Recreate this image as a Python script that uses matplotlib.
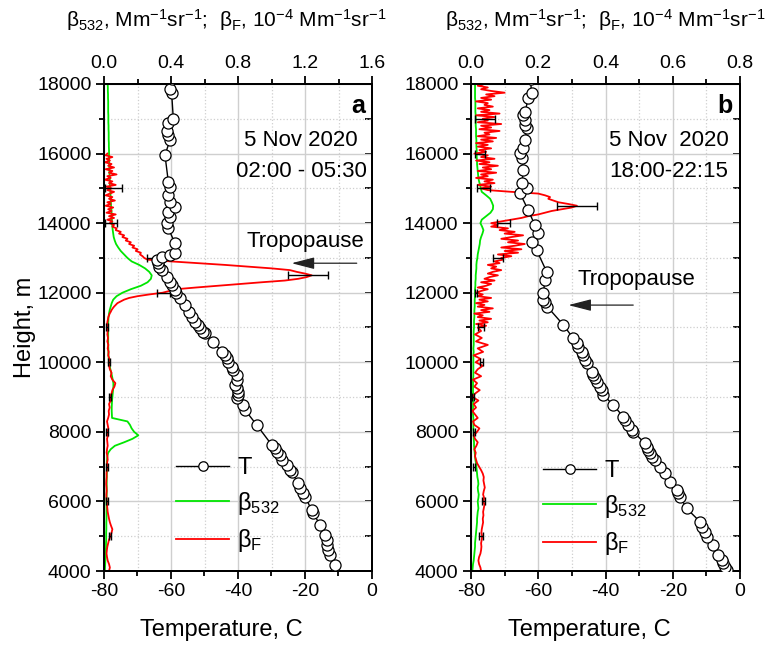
import numpy as np
import matplotlib
matplotlib.use('Agg')
import matplotlib.pyplot as plt
from matplotlib.ticker import MultipleLocator, FormatStrFormatter

plt.rcParams['font.family'] = ['Liberation Sans', 'DejaVu Sans']
plt.rcParams['mathtext.fontset'] = 'custom'
plt.rcParams['mathtext.rm'] = 'Liberation Sans'
plt.rcParams['mathtext.default'] = 'regular'
plt.rcParams['axes.unicode_minus'] = False

# ---------------- Panel a: temperature profile ----------------
Ta_h = [4172, 4460, 4604, 4747, 4891, 5035, 5322, 5658, 5753, 6136, 6233, 6377, 6521,
        6855, 6903, 7047, 7191, 7334, 7430, 7527, 7622, 8197, 8628, 8771, 8963, 9059,
        9154, 9251, 9346, 9490, 9634, 9778, 9873, 10017, 10114, 10209, 10304, 10592,
        10832, 10880, 10976, 11071, 11166, 11310, 11453, 11646, 11838, 11982, 12077,
        12221, 12317, 12460, 12652, 12748, 12844, 12940, 13036, 13084, 13150, 13420,
        13850, 13994, 14186, 14330, 14473, 14617, 14808, 15047, 15191, 15957, 16388,
        16532, 16656, 16868, 16983, 17731, 17846, 18150]
Ta_t = [-11.0, -12.5, -13.0, -13.5, -13.5, -14.0, -15.5, -17.5, -18.0, -20.0, -20.5, -21.5, -22.0,
        -24.0, -24.5, -25.5, -27.0, -27.5, -28.4, -29.0, -29.9, -34.4, -37.9, -38.4, -40.4, -39.9,
        -39.9, -40.4, -40.9, -40.4, -40.4, -41.4, -41.9, -42.9, -43.4, -43.9, -44.9, -47.4,
        -49.9, -50.4, -51.3, -51.8, -52.8, -53.8, -54.6, -55.8, -57.3, -58.5, -58.8,
        -59.8, -60.3, -61.3, -62.8, -63.5, -63.8, -64.3, -62.8, -60.3, -58.8, -58.8,
        -60.8, -61.3, -60.3, -60.8, -58.8, -60.3, -60.8, -60.3, -60.8, -61.8, -60.3,
        -60.8, -61.1, -60.8, -59.3, -59.8, -60.2, -59.8]

# beta_532 (Mm-1 sr-1), panel a, every 100 m from 4000 m
Ga = [0.005, 0.006, 0.007, 0.008, 0.009, 0.010, 0.011, 0.012, 0.012, 0.013,
      0.013, 0.013, 0.014, 0.014, 0.014, 0.015, 0.015, 0.015, 0.015, 0.015,
      0.015, 0.015, 0.016, 0.016, 0.016, 0.016, 0.016, 0.016, 0.017, 0.017,
      0.017, 0.017, 0.018, 0.020, 0.025, 0.040, 0.065, 0.120, 0.170, 0.205,
      0.180, 0.165, 0.155, 0.140, 0.048, 0.047, 0.046, 0.046, 0.047, 0.048,
      0.050, 0.052, 0.054, 0.056, 0.056, 0.052, 0.048, 0.043, 0.038, 0.034,
      0.030, 0.028, 0.027, 0.026, 0.026, 0.025, 0.025, 0.025, 0.025, 0.025,
      0.025, 0.025, 0.026, 0.027, 0.030, 0.034, 0.040, 0.046, 0.055, 0.075,
      0.110, 0.160, 0.220, 0.260, 0.280, 0.285, 0.270, 0.245, 0.210, 0.165,
      0.140, 0.120, 0.100, 0.085, 0.072, 0.064, 0.058, 0.055, 0.052, 0.050,
      0.048, 0.047, 0.046, 0.045, 0.044, 0.042, 0.041, 0.040, 0.039, 0.038,
      0.036, 0.035, 0.035, 0.034, 0.033, 0.032, 0.032, 0.031, 0.031, 0.030,
      0.030, 0.030, 0.029, 0.029, 0.028, 0.028, 0.028, 0.027, 0.027, 0.026,
      0.026, 0.026, 0.025, 0.025, 0.025, 0.025, 0.024, 0.024, 0.023, 0.023,
      0.022]

# beta_F (1e-4 Mm-1 sr-1), panel a: 4000-10900 m every 100 m, then 11000-16000 m every 50 m
Fa_low = [0.030, 0.035, 0.030, 0.022, 0.018, 0.015, 0.017, 0.020, 0.025, 0.030,
          0.038, 0.045, 0.050, 0.042, 0.035, 0.030, 0.026, 0.022, 0.020, 0.018,
          0.016, 0.015, 0.014, 0.016, 0.015, 0.013, 0.014, 0.016, 0.015, 0.017,
          0.020, 0.018, 0.022, 0.020, 0.016, 0.018, 0.022, 0.020, 0.018, 0.024,
          0.020, 0.026, 0.022, 0.018, 0.025, 0.030, 0.028, 0.034, 0.030, 0.040,
          0.036, 0.045, 0.050, 0.062, 0.068, 0.050, 0.040, 0.045, 0.035, 0.030,
          0.028, 0.032, 0.025, 0.028, 0.022, 0.026, 0.020, 0.024, 0.020, 0.022]
Fa_high = [0.020, 0.020, 0.018, 0.020, 0.022, 0.024, 0.026, 0.030, 0.034, 0.040,
           0.045, 0.052, 0.060, 0.070, 0.080, 0.100, 0.120, 0.150, 0.200, 0.270,
           0.350, 0.390, 0.430, 0.550, 0.680, 0.810, 0.940, 1.080, 1.160, 1.210,
           1.240, 1.200, 1.150, 1.110, 1.000, 0.860, 0.720, 0.560, 0.400, 0.260,
           0.240, 0.230, 0.215, 0.220, 0.190, 0.200, 0.170, 0.180, 0.150, 0.160,
           0.130, 0.140, 0.110, 0.120, 0.090, 0.100, 0.070, 0.075, 0.050, 0.060,
           0.035, 0.050, 0.020, 0.060, 0.030, 0.070, 0.015, 0.045, 0.025, 0.055,
           0.010, 0.040, 0.020, 0.065, 0.030, 0.050, 0.010, 0.035, 0.060, 0.020,
           0.045, 0.015, 0.070, 0.030, 0.050, 0.005, 0.040, 0.020, 0.075, 0.030,
           0.050, 0.010, 0.060, 0.025, 0.045, 0.005, 0.035, 0.015, 0.050, 0.010,
           0.020]

Ea_h = [5000, 6000, 7000, 8000, 9000, 10000, 11000, 12000, 12500, 13000, 14000, 15000]
Ea_x = [0.038, 0.016, 0.020, 0.020, 0.036, 0.028, 0.020, 0.355, 1.220, 0.290, 0.043, 0.055]
Ea_dx = [0.006, 0.006, 0.006, 0.006, 0.006, 0.006, 0.006, 0.040, 0.120, 0.035, 0.037, 0.050]

# ---------------- Panel b ----------------
Tb_h = [4029, 4124, 4221, 4316, 4460, 4747, 4986, 5130, 5273, 5417, 5802, 6136, 6233,
        6328, 6567, 6808, 6998, 7191, 7285, 7383, 7478, 7573, 7671, 8004, 8053, 8197,
        8340, 8435, 8771, 9059, 9203, 9298, 9442, 9539, 9634, 9729, 9970, 10065, 10209,
        10304, 10448, 10545, 10688, 11071, 11597, 11741, 11790, 11982, 12364, 12603,
        13227, 13466, 13706, 13945, 14376, 14856, 15000, 15144, 15526, 15862, 16006,
        16150, 16387, 16724, 16820, 16963, 17107, 17202, 17587, 17731, 18150]
Tb_t = [-4.0, -4.5, -5.0, -5.4, -6.4, -7.9, -9.9, -10.4, -11.4, -11.9, -15.9, -17.8, -18.3,
        -18.8, -20.8, -22.3, -23.8, -25.3, -26.3, -26.8, -27.3, -27.7, -28.3, -31.7, -32.2, -33.2,
        -34.2, -34.7, -37.7, -40.6, -41.1, -41.6, -42.6, -43.1, -43.6, -44.1, -45.6, -46.1, -46.6,
        -47.1, -48.1, -48.6, -49.6, -52.5, -57.3, -58.0, -58.5, -58.5, -58.0, -57.5,
        -60.5, -62.0, -60.0, -61.0, -63.0, -65.4, -63.4, -64.9, -64.4, -64.9, -65.4,
        -64.4, -63.9, -63.4, -63.9, -63.9, -64.4, -63.9, -63.0, -62.0, -62.3]

Gb = [0.004, 0.005, 0.006, 0.008, 0.009, 0.010, 0.011, 0.012, 0.012, 0.013,
      0.014, 0.015, 0.016, 0.017, 0.018, 0.018, 0.019, 0.020, 0.022, 0.021,
      0.020, 0.022, 0.023, 0.021, 0.020, 0.022, 0.021, 0.019, 0.018, 0.017,
      0.016, 0.015, 0.013, 0.012, 0.011, 0.010, 0.009, 0.009, 0.008, 0.008,
      0.008, 0.007, 0.007, 0.007, 0.007, 0.006, 0.006, 0.006, 0.006, 0.006,
      0.006, 0.006, 0.006, 0.006, 0.006, 0.006, 0.007, 0.007, 0.007, 0.007,
      0.007, 0.007, 0.007, 0.008, 0.007, 0.008, 0.008, 0.008, 0.008, 0.008,
      0.009, 0.009, 0.009, 0.010, 0.010, 0.010, 0.011, 0.011, 0.011, 0.012,
      0.012, 0.012, 0.013, 0.013, 0.014, 0.014, 0.015, 0.016, 0.016, 0.017,
      0.019, 0.020, 0.022, 0.024, 0.026, 0.027, 0.030, 0.034, 0.037, 0.033,
      0.028, 0.032, 0.045, 0.058, 0.065, 0.066, 0.062, 0.057, 0.045, 0.032,
      0.029, 0.027, 0.024, 0.022, 0.021, 0.020, 0.019, 0.018, 0.018, 0.017,
      0.017, 0.017, 0.016, 0.016, 0.016, 0.015, 0.015, 0.015, 0.014, 0.014,
      0.014, 0.014, 0.013, 0.013, 0.013, 0.013, 0.012, 0.012, 0.012, 0.012,
      0.012]

Fb_low = [0.030, 0.028, 0.024, 0.022, 0.024, 0.028, 0.030, 0.031, 0.030, 0.032,
          0.033, 0.031, 0.032, 0.034, 0.036, 0.035, 0.037, 0.036, 0.038, 0.040,
          0.037, 0.039, 0.036, 0.038, 0.041, 0.039, 0.037, 0.038, 0.035, 0.030,
          0.024, 0.018, 0.015, 0.012, 0.014, 0.010, 0.016, 0.020, 0.012, 0.008,
          0.018, 0.025, 0.010, 0.006, 0.020, 0.012, 0.004, 0.015, 0.008, 0.022,
          0.005, 0.012, 0.026, 0.010, 0.018, 0.006, 0.030, 0.012, 0.020, 0.035,
          0.014, 0.028, 0.008, 0.036, 0.020, 0.050, 0.015, 0.032, 0.012, 0.030]
Fb_high = [0.020, 0.045, 0.015, 0.050, 0.025, 0.060, 0.020, 0.035, 0.010, 0.055,
           0.030, 0.065, 0.020, 0.040, 0.015, 0.050, 0.025, 0.060, 0.020, 0.035,
           0.015, 0.030, 0.050, 0.020, 0.045, 0.060, 0.030, 0.070, 0.040, 0.055,
           0.080, 0.050, 0.065, 0.090, 0.060, 0.075, 0.050, 0.085, 0.070, 0.095,
           0.090, 0.120, 0.080, 0.140, 0.100, 0.150, 0.090, 0.130, 0.160, 0.110,
           0.140, 0.090, 0.120, 0.155, 0.100, 0.130, 0.085, 0.110, 0.060, 0.080,
           0.060, 0.090, 0.120, 0.150, 0.170, 0.200, 0.220, 0.240, 0.270, 0.300,
           0.315, 0.290, 0.260, 0.245, 0.230, 0.235, 0.220, 0.200, 0.120, 0.050,
           0.030, 0.060, 0.020, 0.070, 0.040, 0.065, 0.015, 0.050, 0.030, 0.075,
           0.020, 0.060, 0.035, 0.080, 0.025, 0.055, 0.015, 0.070, 0.030, 0.050,
           0.010, 0.045, 0.025, 0.060, 0.020, 0.050, 0.015, 0.065, 0.030, 0.075,
           0.020, 0.055, 0.040, 0.085, 0.025, 0.060, 0.030, 0.090, 0.020, 0.050,
           0.035, 0.070, 0.015, 0.085, 0.030, 0.055, 0.020, 0.065, 0.040, 0.050,
           0.015, 0.060, 0.030, 0.070, 0.045, 0.100, 0.060, 0.030, 0.050, 0.020,
           0.040]

Eb_h = [5000, 6000, 7000, 8000, 9000, 10000, 11000, 12000, 13000, 14000, 14500, 15000, 16000, 17000]
Eb_x = [0.030, 0.037, 0.010, 0.010, 0.005, 0.032, 0.030, 0.015, 0.080, 0.097, 0.315, 0.037, 0.027, 0.042]
Eb_dx = [0.005, 0.005, 0.003, 0.003, 0.003, 0.005, 0.008, 0.003, 0.015, 0.020, 0.060, 0.020, 0.015, 0.030]

# sampling heights of the lidar profiles
H_g = np.arange(4000, 18001, 100)
H_low = np.arange(4000, 10901, 100)
Ha_high = np.arange(11000, 16001, 50)
Hb_high = np.arange(11000, 18001, 50)

GREEN = '#00e600'
RED = '#ff0000'
GRID = '#cfcfcf'

W, Hh = 776, 649
fig = plt.figure(figsize=(W / 100, Hh / 100), dpi=100)


def make_panel(px0, px1, beta_max, beta_step, T_h, T_t, G, F_h, F, E_h, E_x, E_dx,
               letter, date, time, trop_xy, arrow, leg_xy):
    py_top, py_bot = 84, 571
    rect = [px0 / W, 1 - py_bot / Hh, (px1 - px0) / W, (py_bot - py_top) / Hh]
    axB = fig.add_axes(rect)
    axT = axB.twiny()
    axB.xaxis.tick_top()
    axB.xaxis.set_label_position('top')
    axT.xaxis.tick_bottom()
    axT.xaxis.set_label_position('bottom')

    axB.set_ylim(4000, 18000)
    axB.set_xlim(0, beta_max)
    axT.set_xlim(-80, 0)

    axB.yaxis.set_major_locator(MultipleLocator(2000))
    axB.yaxis.set_minor_locator(MultipleLocator(1000))
    axB.xaxis.set_major_locator(MultipleLocator(beta_step))
    axB.xaxis.set_minor_locator(MultipleLocator(beta_step / 2))
    axB.xaxis.set_major_formatter(FormatStrFormatter('%.1f'))
    axT.xaxis.set_major_locator(MultipleLocator(20))
    axT.xaxis.set_minor_locator(MultipleLocator(10))

    axB.set_axisbelow(True)
    axB.grid(which='major', color=GRID, lw=1.0, ls='-')
    axB.grid(which='minor', color=GRID, lw=0.9, ls=':')

    for a in (axB, axT):
        for s in a.spines.values():
            s.set_linewidth(1.4)
    axB.tick_params(axis='both', which='major', direction='out', length=6, width=1.3,
                    labelsize=14, pad=3)
    axB.tick_params(axis='both', which='minor', direction='out', length=3.5, width=1.3)
    axB.tick_params(axis='y', right=False)
    axT.tick_params(axis='x', which='major', direction='out', length=6, width=1.3,
                    labelsize=14, pad=3)
    axT.tick_params(axis='x', which='minor', direction='out', length=3.5, width=1.3)

    sec = axB.secondary_yaxis('right')
    sec.yaxis.set_major_locator(MultipleLocator(2000))
    sec.yaxis.set_minor_locator(MultipleLocator(1000))
    sec.tick_params(which='both', direction='in', length=5, width=1.3, labelright=False)
    sec.spines['right'].set_linewidth(1.4)

    lg, = axB.plot(G, H_g, color=GREEN, lw=1.3)
    lr, = axB.plot(F, F_h, color=RED, lw=1.3)
    axB.errorbar(E_x, E_h, xerr=E_dx, fmt='none', ecolor='black', elinewidth=1.0,
                 capsize=3.2, capthick=1.0, zorder=3)
    lT, = axT.plot(T_t, T_h, '-o', color='black', lw=1.0, ms=8, mfc='white',
                   mec='black', mew=0.9, zorder=4)

    axT.text(0.974, 0.955, letter, transform=axT.transAxes, ha='right', va='center',
             fontsize=18, fontweight='bold')
    axT.text(0.735, 0.885, date, transform=axT.transAxes, ha='center', va='center', fontsize=16)
    axT.text(0.735, 0.820, time, transform=axT.transAxes, ha='center', va='center', fontsize=16)
    axT.text(trop_xy[0], trop_xy[1], 'Tropopause', transform=axT.transAxes,
             ha='center', va='center', fontsize=16)
    axT.annotate('', xy=(arrow[1], arrow[2]), xytext=(arrow[0], arrow[2]),
                 xycoords='axes fraction', textcoords='axes fraction',
                 arrowprops=dict(arrowstyle='-|>,head_length=0.7,head_width=0.18',
                                 color='#222222', lw=0.9, mutation_scale=20,
                                 shrinkA=0, shrinkB=0))
    axT.legend([lT, lg, lr], ['T', 'β$_{532}$', 'β$_{F}$'], loc='upper left',
               bbox_to_anchor=leg_xy, frameon=False, fontsize=17, numpoints=1,
               handlelength=2.25, handletextpad=0.35, labelspacing=0.45,
               borderpad=0, borderaxespad=0, markerscale=0.85)
    return axB, axT


make_panel(104, 372, 1.6, 0.4, Ta_h, Ta_t, Ga, np.concatenate([H_low, Ha_high]),
           Fa_low + Fa_high, Ea_h, Ea_x, Ea_dx, 'a', '5 Nov 2020', '02:00 - 05:30',
           (0.75, 0.676), (0.943, 0.700, 0.632), (0.269, 0.234))
make_panel(471, 740, 0.8, 0.2, Tb_h, Tb_t, Gb, np.concatenate([H_low, Hb_high]),
           Fb_low + Fb_high, Eb_h, Eb_x, Eb_dx, 'b', '5 Nov  2020', '18:00-22:15',
           (0.616, 0.598), (0.603, 0.362, 0.546), (0.268, 0.228))

top_label = 'β$_{532}$, Mm$^{-1}$sr$^{-1}$;  β$_{F}$, 10$^{-4}$ Mm$^{-1}$sr$^{-1}$'
fig.text(226 / W, 1 - 20 / Hh, top_label, ha='center', va='center', fontsize=15)
fig.text(605 / W, 1 - 20 / Hh, top_label, ha='center', va='center', fontsize=15)
fig.text(221 / W, 1 - 630 / Hh, 'Temperature, C', ha='center', va='center', fontsize=17)
fig.text(589 / W, 1 - 630 / Hh, 'Temperature, C', ha='center', va='center', fontsize=17)
fig.text(25 / W, 1 - 327 / Hh, 'Height, m', ha='center', va='center', rotation=90, fontsize=17)

fig.savefig('out.png', dpi=100)
